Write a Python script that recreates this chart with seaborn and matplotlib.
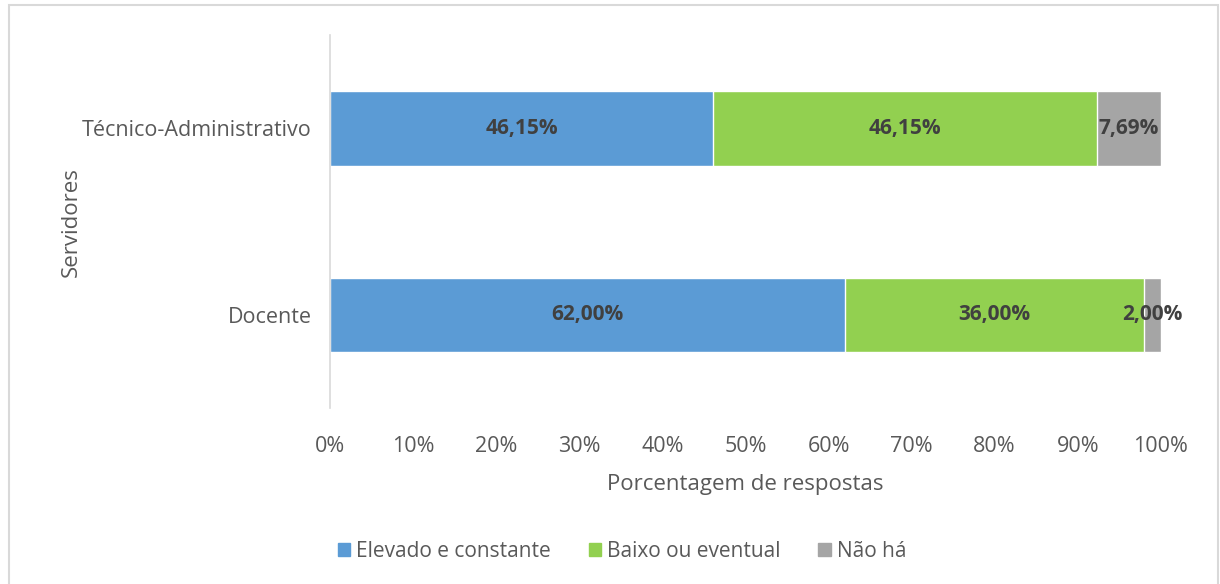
import matplotlib
matplotlib.use("Agg")
import matplotlib.pyplot as plt
import seaborn as sns
import pandas as pd
from matplotlib.patches import Rectangle

servidores = ["Técnico-Administrativo", "Docente"]
elevado = [46.15, 62.00]
baixo = [46.15, 36.00]
nao_ha = [7.69, 2.00]
series = ["Elevado e constante", "Baixo ou eventual", "Não há"]
cores = ["#5B9BD5", "#92D050", "#A5A5A5"]
ticks = [0, 10, 20, 30, 40, 50, 60, 70, 80, 90, 100]

sns.set_style("white")
plt.rcParams["font.family"] = ["Open Sans", "DejaVu Sans"]

df = pd.DataFrame({"Servidor": servidores, "Elevado": elevado,
                   "Baixo": baixo, "Nao": nao_ha})
df["c1"] = df["Elevado"]
df["c2"] = df["Elevado"] + df["Baixo"]
df["c3"] = df["c2"] + df["Nao"]

fig = plt.figure(figsize=(12.2, 5.84), dpi=100)
ax = fig.add_axes([0.2705, 0.301, 0.681, 0.639])

# stacked: draw cumulative totals from largest to smallest
for col, cor in zip(["c3", "c2", "c1"], cores[::-1]):
    sns.barplot(data=df, y="Servidor", x=col, color=cor, orient="h",
                width=0.4, ax=ax, saturation=1)

for i in range(len(servidores)):
    starts = [0, elevado[i], elevado[i] + baixo[i]]
    for s, v in zip(starts, [elevado[i], baixo[i], nao_ha[i]]):
        ax.text(s + v / 2, i, f"{v:.2f}%".replace(".", ","), ha="center",
                va="center", fontsize=15, fontweight="bold", color="#404040")

ax.set_xlim(0, 100)
ax.set_ylim(1.5, -0.5)
ax.set_xticks(ticks)
ax.set_xticklabels([f"{t}%" for t in ticks])
ax.tick_params(axis="both", length=0, labelsize=15.5, labelcolor="#595959")
ax.tick_params(axis="y", pad=13)
ax.tick_params(axis="x", pad=20)
ax.set_xlabel("Porcentagem de respostas", fontsize=16, color="#595959", labelpad=12)
ax.set_ylabel("Servidores", fontsize=16, color="#595959", labelpad=0)
for sp in ["top", "right", "bottom"]:
    ax.spines[sp].set_visible(False)
ax.spines["left"].set_color("#D9D9D9")
ax.spines["left"].set_linewidth(1.2)

handles = [Rectangle((0, 0), 1, 1, color=c) for c in cores]
fig.legend(handles, series, loc="center", bbox_to_anchor=(0.51, 0.056), ncol=3,
           frameon=False, fontsize=15, handlelength=0.6, handleheight=0.6,
           handletextpad=0.3, columnspacing=1.8, labelcolor="#595959")

fig.patches.append(Rectangle((0.007, -0.01), 0.991, 1.002, transform=fig.transFigure,
                             fill=False, edgecolor="#D9D9D9", linewidth=1.5))

fig.savefig("out.png", dpi=100)
